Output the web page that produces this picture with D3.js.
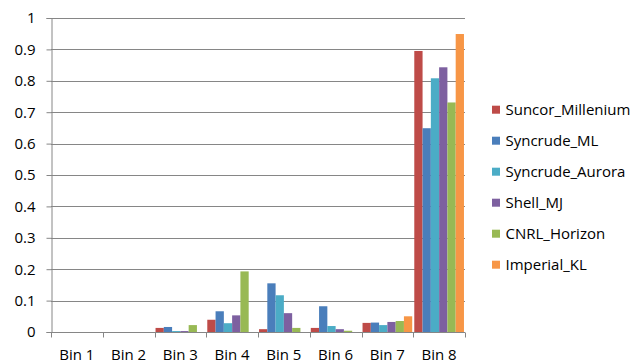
<!DOCTYPE html>
<html>
<head>
<meta charset="utf-8">
<script src="https://cdn.jsdelivr.net/npm/d3@7"></script>
<style>
  html, body { margin: 0; padding: 0; background: #fff; }
  svg text { font-family: "Open Sans", "Liberation Sans", sans-serif; fill: #000; }
</style>
</head>
<body>
<svg id="chart" width="635" height="363"></svg>
<script>
// Bin categories along the x axis
const bins = ["Bin 1", "Bin 2", "Bin 3", "Bin 4", "Bin 5", "Bin 6", "Bin 7", "Bin 8"];

// One series per operation, one value per bin
const seriesNames = ["Suncor_Millenium", "Syncrude_ML", "Syncrude_Aurora", "Shell_MJ", "CNRL_Horizon", "Imperial_KL"];
const suncorMillenium = [0, 0, 0.013, 0.039, 0.009, 0.013, 0.029, 0.895];
const syncrudeML      = [0, 0, 0.016, 0.066, 0.155, 0.082, 0.030, 0.649];
const syncrudeAurora  = [0, 0, 0.003, 0.028, 0.117, 0.019, 0.022, 0.808];
const shellMJ         = [0, 0, 0.003, 0.053, 0.060, 0.009, 0.032, 0.843];
const cnrlHorizon     = [0, 0, 0.022, 0.193, 0.013, 0.004, 0.035, 0.731];
const imperialKL      = [0, 0, 0, 0, 0, 0, 0.050, 0.949];

const yTicks = [0, 0.1, 0.2, 0.3, 0.4, 0.5, 0.6, 0.7, 0.8, 0.9, 1];

const seriesValues = [suncorMillenium, syncrudeML, syncrudeAurora, shellMJ, cnrlHorizon, imperialKL];
const colors = ["#BE4B48", "#4A7EBB", "#4BACC6", "#7D60A0", "#98B954", "#F79646"];

const svg = d3.select("#chart");
const plot = { left: 51, right: 465, top: 18, bottom: 332 };

const x = d3.scaleBand().domain(bins).range([plot.left, plot.right]).paddingInner(0).paddingOuter(0);
const inner = d3.scaleBand().domain(seriesNames).range([0, x.bandwidth()])
  .paddingInner(0).paddingOuter(0.125);
const y = d3.scaleLinear().domain([0, 1]).range([plot.bottom, plot.top]);

// Horizontal gridlines
svg.append("g")
  .selectAll("line")
  .data(yTicks.filter(t => t > 0))
  .join("line")
  .attr("x1", plot.left).attr("x2", plot.right)
  .attr("y1", d => Math.round(y(d)) + 0.5).attr("y2", d => Math.round(y(d)) + 0.5)
  .attr("stroke", "#868686").attr("stroke-width", 1);

// Bars
const barGroup = svg.append("g");
seriesValues.forEach((vals, si) => {
  barGroup.append("g")
    .selectAll("rect")
    .data(vals.map((v, i) => ({ bin: bins[i], v })))
    .join("rect")
    .attr("x", d => x(d.bin) + inner(seriesNames[si]))
    .attr("width", inner.bandwidth())
    .attr("y", d => y(d.v))
    .attr("height", d => plot.bottom - y(d.v))
    .attr("fill", colors[si]);
});

// Y axis
const yAxis = svg.append("g")
  .attr("transform", `translate(${plot.left + 0.5},0)`)
  .call(d3.axisLeft(y).tickValues(yTicks).tickSize(5).tickPadding(11).tickFormat(d3.format("")));
yAxis.select(".domain").attr("stroke", "#868686");
yAxis.selectAll(".tick line").attr("stroke", "#868686");
yAxis.selectAll("text").style("font-size", "15px");

// X axis with ticks between categories
const xAxis = svg.append("g")
  .attr("transform", `translate(0,${plot.bottom + 0.5})`);
xAxis.append("line")
  .attr("x1", plot.left).attr("x2", plot.right)
  .attr("stroke", "#868686");
xAxis.selectAll("line.tk")
  .data(bins.map((b, i) => i).concat([bins.length]))
  .join("line")
  .attr("class", "tk")
  .attr("x1", i => Math.round(plot.left + i * x.bandwidth()) + 0.5)
  .attr("x2", i => Math.round(plot.left + i * x.bandwidth()) + 0.5)
  .attr("y1", 0).attr("y2", 5)
  .attr("stroke", "#868686");
xAxis.selectAll("text")
  .data(bins)
  .join("text")
  .attr("x", d => x(d) + x.bandwidth() / 2)
  .attr("y", 27.5)
  .attr("text-anchor", "middle")
  .style("font-size", "15px")
  .text(d => d);

// Legend
const legend = svg.append("g");
seriesNames.forEach((name, i) => {
  const cy = 109.7 + i * 31;
  legend.append("rect")
    .attr("x", 492).attr("y", cy - 4).attr("width", 8).attr("height", 8)
    .attr("fill", colors[i]);
  legend.append("text")
    .attr("x", 505.5).attr("y", cy + 5.2)
    .style("font-size", "15px")
    .text(name);
});
</script>
</body>
</html>
